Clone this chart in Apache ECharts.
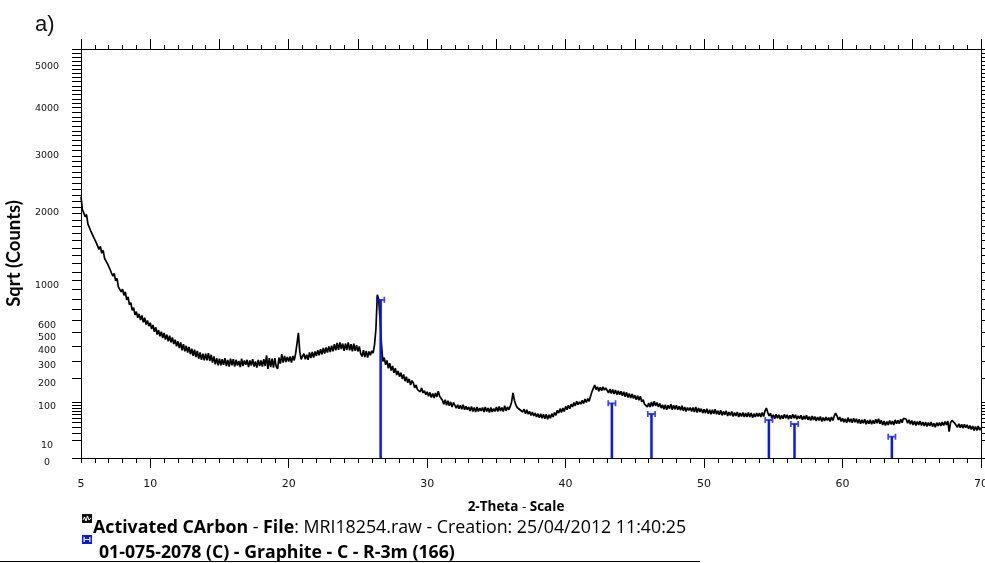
<!DOCTYPE html>
<html>
<head>
<meta charset="utf-8">
<script src="https://cdn.jsdelivr.net/npm/echarts@6/dist/echarts.min.js"></script>
<style>
  html, body { margin: 0; padding: 0; background: #ffffff; }
  #chart { width: 985px; height: 563px; }
</style>
</head>
<body>
<div id="chart"></div>
<script>
// Scan parameters of the measured pattern (2-theta, degrees)
const scanStart = 5.0;
const scanStep = 0.1;

// Measured intensity on the square-root scale: sqrt(counts), one row per degree
const sqrtCounts = [
  46.6, 44.3, 44.2, 43.0, 43.4, 41.7, 42.0, 40.5, 40.8, 39.4, // 5
  39.6, 38.4, 38.7, 37.2, 37.7, 36.5, 37.0, 35.6, 35.9, 34.7, // 6
  34.9, 33.6, 33.9, 32.4, 32.9, 31.6, 32.0, 30.5, 30.8, 29.6, // 7
  30.1, 29.0, 29.6, 28.2, 28.7, 27.3, 27.7, 26.3, 26.8, 25.5, // 8
  26.1, 25.0, 25.7, 24.6, 25.4, 24.2, 25.0, 23.8, 24.5, 23.5, // 9
  24.1, 23.0, 23.7, 22.5, 23.3, 22.0, 22.8, 21.7, 22.5, 21.4, // 10
  22.3, 21.1, 22.0, 20.8, 21.8, 20.6, 21.5, 20.3, 21.1, 19.9, // 11
  20.8, 19.6, 20.6, 19.2, 20.3, 19.0, 20.0, 18.8, 19.8, 18.5, // 12
  19.5, 18.2, 19.3, 18.0, 19.1, 17.7, 18.8, 17.5, 18.6, 17.4, // 13
  18.6, 17.4, 18.7, 17.3, 18.4, 17.0, 18.1, 16.7, 17.8, 16.5, // 14
  17.7, 16.5, 17.6, 16.6, 17.8, 16.4, 17.5, 16.3, 17.7, 16.5, // 15
  17.6, 16.3, 17.5, 16.5, 17.3, 16.2, 17.7, 16.4, 17.4, 16.6, // 16
  17.5, 16.2, 17.4, 16.5, 17.6, 16.3, 17.2, 16.1, 17.5, 16.4, // 17
  17.4, 16.3, 17.6, 16.4, 18.3, 15.9, 17.8, 16.2, 17.7, 16.1, // 18
  17.8, 16.3, 15.9, 17.9, 16.8, 18.5, 17.0, 18.2, 17.1, 18.0, // 19
  17.2, 18.1, 17.0, 18.2, 17.4, 18.6, 20.4, 22.3, 19.0, 17.6, // 20
  17.5, 18.6, 17.6, 18.4, 17.5, 18.8, 17.8, 18.9, 17.9, 19.0, // 21
  18.2, 19.2, 18.3, 19.4, 18.5, 19.6, 18.6, 19.7, 18.8, 19.9, // 22
  18.9, 20.0, 19.0, 20.3, 19.2, 20.5, 19.3, 20.6, 19.4, 20.4, // 23
  19.1, 20.4, 19.3, 20.6, 19.2, 20.3, 19.0, 20.4, 19.1, 20.1, // 24
  19.0, 19.9, 18.6, 18.1, 19.2, 18.0, 19.1, 17.9, 19.0, 18.3, // 25
  19.1, 18.7, 20.2, 23.0, 29.1, 28.3, 24.6, 20.3, 17.2, 17.9, // 26
  16.6, 17.4, 16.0, 16.9, 15.6, 16.4, 15.2, 16.0, 14.8, 15.5, // 27
  14.5, 15.2, 14.1, 14.9, 13.7, 14.5, 13.4, 14.1, 13.0, 13.8, // 28
  13.4, 12.5, 13.0, 12.2, 12.4, 11.8, 12.5, 11.6, 12.0, 11.3, // 29
  11.8, 11.0, 11.7, 10.8, 11.5, 10.7, 11.6, 10.9, 11.9, 11.0, // 30
  11.2, 10.3, 9.6, 10.4, 9.4, 10.2, 9.3, 10.0, 9.1, 9.9,      // 31
  9.6, 8.9, 9.5, 8.8, 9.4, 8.7, 9.5, 8.6, 9.2, 8.6,           // 32
  9.1, 8.4, 9.2, 8.3, 9.0, 8.2, 9.1, 8.3, 8.9, 8.4,           // 33
  9.0, 8.2, 9.1, 8.3, 8.9, 8.1, 9.0, 8.2, 8.8, 8.3,           // 34
  9.1, 8.3, 9.2, 8.4, 9.0, 8.3, 9.3, 8.4, 9.1, 8.6,           // 35
  9.2, 10.0, 11.6, 10.3, 9.5, 9.0, 9.2, 8.6, 8.9, 8.2,        // 36
  8.7, 7.9, 8.6, 7.8, 8.3, 7.6, 8.2, 7.5, 8.0, 7.3,           // 37
  7.9, 7.2, 7.9, 7.1, 7.8, 7.0, 7.8, 6.9, 7.7, 7.1,           // 38
  7.9, 7.3, 8.1, 7.6, 8.5, 8.0, 8.8, 8.1, 8.9, 8.3,           // 39
  9.2, 8.6, 9.4, 8.8, 9.6, 9.1, 9.9, 9.3, 10.1, 9.5,          // 40
  10.0, 9.6, 10.3, 9.7, 10.5, 9.9, 10.6, 10.1, 11.0, 11.8,    // 41
  12.4, 13.0, 12.2, 12.7, 11.9, 12.6, 12.0, 12.7, 12.1, 12.5, // 42
  12.4, 11.6, 12.3, 11.5, 12.2, 11.4, 12.1, 11.3, 12.0, 11.3, // 43
  11.9, 11.1, 11.8, 10.9, 11.7, 10.8, 11.5, 10.7, 11.4, 10.6, // 44
  11.2, 10.4, 11.1, 10.3, 11.0, 10.0, 10.4, 9.6, 9.9, 9.1,    // 45
  9.8, 9.1, 10.0, 9.2, 10.1, 9.3, 9.9, 9.1, 9.7, 8.9,         // 46
  9.5, 8.7, 9.5, 8.6, 9.4, 8.8, 9.6, 8.6, 9.4, 8.7,           // 47
  9.4, 8.6, 9.2, 8.5, 9.3, 8.4, 9.1, 8.3, 9.0, 8.5,           // 48
  9.0, 8.3, 9.0, 8.2, 9.1, 8.1, 8.9, 8.2, 8.8, 8.0,           // 49
  8.7, 8.0, 8.8, 7.9, 8.6, 7.8, 8.6, 7.9, 8.7, 7.8,           // 50
  8.4, 7.7, 8.5, 7.6, 8.3, 7.7, 8.4, 7.5, 8.2, 7.6,           // 51
  8.3, 7.4, 8.1, 7.5, 8.2, 7.3, 8.0, 7.4, 8.1, 7.3,           // 52
  8.0, 7.3, 8.1, 7.3, 8.0, 7.2, 7.9, 7.3, 8.0, 7.4,           // 53
  8.0, 7.3, 8.1, 7.4, 8.4, 8.9, 8.1, 7.5, 8.0, 7.1,           // 54
  7.7, 7.0, 7.8, 7.1, 7.7, 6.9, 7.6, 7.0, 7.8, 7.1,           // 55
  7.7, 6.9, 7.6, 7.0, 7.8, 7.1, 7.7, 6.9, 7.5, 7.0,           // 56
  7.6, 6.8, 7.5, 6.9, 7.6, 6.8, 7.4, 6.7, 7.5, 6.8,           // 57
  7.4, 6.6, 7.3, 6.7, 7.4, 6.5, 7.2, 6.6, 7.3, 6.7,           // 58
  7.2, 6.5, 7.3, 6.7, 7.5, 8.0, 7.5, 6.8, 7.3, 6.5,           // 59
  7.1, 6.4, 7.0, 6.3, 7.2, 6.4, 7.0, 6.3, 7.1, 6.4,           // 60
  7.0, 6.2, 6.9, 6.1, 6.8, 6.2, 6.9, 6.0, 6.7, 6.1,           // 61
  6.8, 6.0, 6.7, 6.1, 6.9, 6.2, 7.0, 6.1, 6.7, 5.9,           // 62
  6.6, 5.8, 6.5, 5.9, 6.7, 6.0, 6.6, 5.9, 6.8, 6.1,           // 63
  6.7, 6.1, 6.9, 6.3, 7.1, 7.3, 6.9, 6.2, 6.8, 6.0,           // 64
  6.7, 5.9, 6.6, 5.8, 6.5, 5.9, 6.6, 5.8, 6.4, 5.7,           // 65
  6.4, 5.6, 6.3, 5.7, 6.4, 5.6, 6.2, 5.5, 6.3, 5.7,           // 66
  6.3, 5.7, 6.4, 5.8, 6.5, 5.9, 6.6, 4.7, 6.3, 6.7,           // 67
  7.0, 6.2, 6.2, 5.5, 6.1, 5.4, 6.0, 5.3, 6.0, 5.4,           // 68
  5.9, 5.2, 5.8, 5.1, 5.7, 4.9, 5.6, 4.9, 5.7, 5.0,           // 69
  5.4                                                         // 70
];

// Reference pattern 01-075-2078 (Graphite, R-3m): peak positions and stick heights (sqrt counts)
const graphiteTheta = [26.64, 43.34, 46.20, 54.68, 56.53, 63.56];
const graphiteSqrt = [28.2, 9.75, 7.84, 6.77, 6.06, 3.8];

// Intensity axis (counts), drawn on a square-root scale
const yLabelCounts = [0, 10, 100, 200, 300, 400, 500, 600, 1000, 2000, 3000, 4000, 5000];
const yTickCounts = [
  0, 10, 20, 30, 40, 50, 60, 70, 80, 90,
  100, 200, 300, 400, 500, 600, 700, 800, 900,
  1000, 1100, 1200, 1300, 1400, 1500, 1600, 1700, 1800, 1900,
  2000, 2100, 2200, 2300, 2400, 2500, 2600, 2700, 2800, 2900,
  3000, 3100, 3200, 3300, 3400, 3500, 3600, 3700, 3800, 3900,
  4000, 4100, 4200, 4300, 4400, 4500, 4600, 4700, 4800, 4900,
  5000, 5100, 5200, 5300
];
const yTopCounts = 5315;

// 2-theta axis labels and long ticks
const xLabels = [5, 10, 20, 30, 40, 50, 60, 70];
const xLongTicksBottom = [10, 20, 30, 40, 50, 60, 70];

const patternData = sqrtCounts.map((v, i) => [+(scanStart + i * scanStep).toFixed(2), v]);
const stickData = graphiteTheta.map((t, i) => [t, graphiteSqrt[i]]);

const ink = '#000000';
const blue = '#0a14ff';
const capPath = 'path://M0,0H3V10H0Z M3,3.5H13V6.5H3Z M13,0H16V10H13Z';
const legendFont = '"Open Sans", Lato, sans-serif';

const chart = echarts.init(document.getElementById('chart'), null, { renderer: 'canvas' });

const baseX = { type: 'value', min: 5, max: 70, gridIndex: 0, splitLine: { show: false } };

chart.setOption({
  animation: false,
  backgroundColor: '#ffffff',
  grid: { left: 81, right: 4, top: 49, bottom: 105, containLabel: false, outerBoundsMode: 'none' },
  xAxis: [
    Object.assign({}, baseX, {
      position: 'bottom', interval: 1,
      axisLine: { show: true, lineStyle: { color: ink, width: 1 } },
      axisTick: { show: true, length: 5, lineStyle: { color: ink, width: 1 } },
      axisLabel: {
        customValues: xLabels, margin: 21, color: '#111',
        fontFamily: 'DejaVu Sans', fontSize: 11
      }
    }),
    Object.assign({}, baseX, {
      position: 'bottom', offset: 0,
      axisLine: { show: false },
      axisTick: { show: true, customValues: xLongTicksBottom, length: 10, lineStyle: { color: ink, width: 1 } },
      axisLabel: { show: false }
    }),
    Object.assign({}, baseX, {
      position: 'top', interval: 1, offset: 0,
      axisLine: { show: true, lineStyle: { color: ink, width: 1 } },
      axisTick: { show: true, length: 4, lineStyle: { color: ink, width: 1 } },
      axisLabel: { show: false }
    }),
    Object.assign({}, baseX, {
      position: 'top', interval: 5, offset: 0,
      axisLine: { show: false },
      axisTick: { show: true, length: 10, lineStyle: { color: ink, width: 1 } },
      axisLabel: { show: false }
    })
  ],
  yAxis: [
    {
      type: 'value', position: 'left', min: 0, max: Math.sqrt(yTopCounts),
      splitLine: { show: false },
      axisLine: { show: true, lineStyle: { color: ink, width: 1 } },
      axisTick: { show: true, length: 9, customValues: yTickCounts.map(Math.sqrt), lineStyle: { color: ink, width: 1 } },
      axisLabel: {
        customValues: yLabelCounts.map(Math.sqrt),
        formatter: v => String(Math.round(v * v)),
        align: 'center', verticalAlign: 'top', lineHeight: 10, margin: 34,
        color: '#111', fontFamily: 'DejaVu Sans', fontSize: 9.5
      },
      name: 'Sqrt (Counts)', nameLocation: 'middle', nameRotate: 90, nameGap: 57,
      nameTextStyle: { fontFamily: 'Lato', fontWeight: 'bold', fontSize: 18.5, color: ink }
    },
    {
      type: 'value', position: 'right', min: 0, max: Math.sqrt(yTopCounts),
      splitLine: { show: false },
      axisLine: { show: true, lineStyle: { color: ink, width: 1 } },
      axisTick: { show: true, length: 7, customValues: yTickCounts.map(Math.sqrt), lineStyle: { color: ink, width: 1 } },
      axisLabel: { show: false }
    }
  ],
  series: [
    {
      name: 'Activated CArbon',
      type: 'line', xAxisIndex: 0, yAxisIndex: 0,
      data: patternData, showSymbol: false, symbol: 'none',
      lineStyle: { color: ink, width: 1.7 }, z: 3
    },
    {
      name: 'Graphite',
      type: 'bar', xAxisIndex: 0, yAxisIndex: 0,
      data: stickData, barWidth: 2.5,
      itemStyle: { color: blue }, z: 4
    },
    {
      name: 'Graphite caps',
      type: 'scatter', xAxisIndex: 0, yAxisIndex: 0,
      data: stickData, symbol: capPath, symbolSize: [9, 6],
      itemStyle: { color: blue }, z: 5
    }
  ],
  graphic: [
    {
      type: 'text', x: 35, y: 14,
      style: { text: 'a)', font: '22px "Liberation Sans", Arial, sans-serif', fill: '#111' }
    },
    {
      type: 'text', x: 516, y: 507,
      style: {
        text: '{b|2-Theta} - {b|Scale}', align: 'center', verticalAlign: 'middle',
        font: '13.5px ' + legendFont, fill: ink,
        rich: { b: { fontFamily: legendFont, fontWeight: 'bold', fontSize: 13.5, fill: ink } }
      }
    },
    // legend icon: measured pattern
    { type: 'rect', shape: { x: 82, y: 514, width: 10, height: 9 }, style: { fill: '#111' } },
    {
      type: 'polyline',
      shape: { points: [[83, 520], [84.5, 517], [86, 521], [87.5, 516], [89, 520], [91, 518]] },
      style: { stroke: '#ffffff', lineWidth: 1, fill: null }
    },
    {
      type: 'text', x: 93, y: 528,
      style: {
        text: '{b|Activated CArbon} - {b|File}: MRI18254.raw - Creation: 25/04/2012 11:40:25',
        align: 'left', verticalAlign: 'middle',
        font: '17.8px ' + legendFont, fill: ink,
        rich: { b: { fontFamily: legendFont, fontWeight: 'bold', fontSize: 17.8, fill: ink } }
      }
    },
    // legend icon: reference pattern
    { type: 'rect', shape: { x: 82, y: 535, width: 10, height: 9 }, style: { fill: blue } },
    { type: 'rect', shape: { x: 83.5, y: 537, width: 1.3, height: 5 }, style: { fill: '#ffffff' } },
    { type: 'rect', shape: { x: 89.2, y: 537, width: 1.3, height: 5 }, style: { fill: '#ffffff' } },
    { type: 'rect', shape: { x: 84.8, y: 539, width: 4.4, height: 1 }, style: { fill: '#ffffff' } },
    {
      type: 'text', x: 99, y: 553,
      style: {
        text: '01-075-2078 (C) - Graphite - C - R-3m (166)',
        align: 'left', verticalAlign: 'middle',
        font: 'bold 17.7px ' + legendFont, fill: ink
      }
    },
    {
      type: 'line', shape: { x1: 0, y1: 561.5, x2: 700, y2: 561.5 },
      style: { stroke: ink, lineWidth: 1 }
    }
  ]
});
</script>
</body>
</html>
